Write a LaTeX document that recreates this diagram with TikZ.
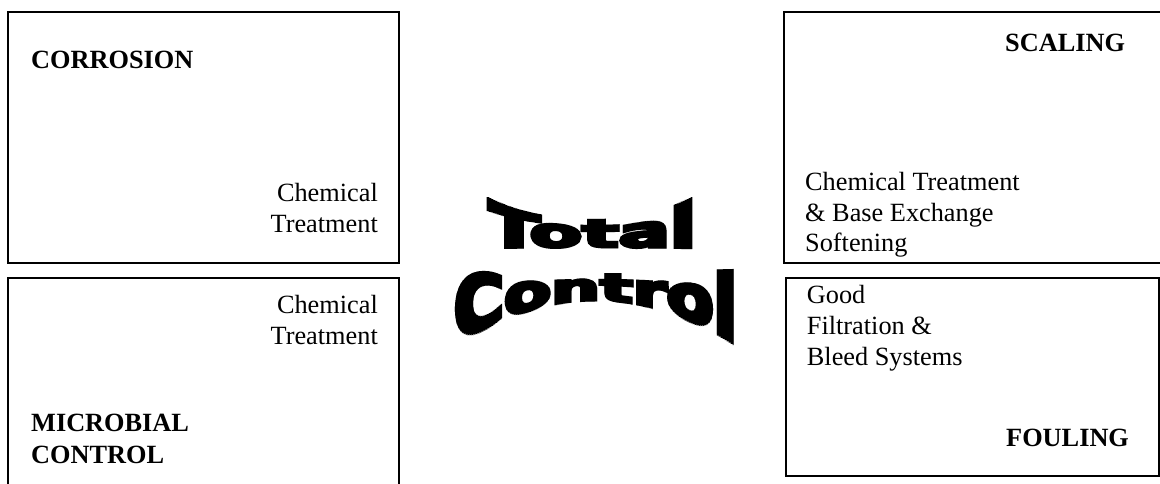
\documentclass[tikz,border=0pt]{standalone}
\usepackage{fontspec}
\usepackage{graphicx}
\setmainfont{Liberation Serif}
\newfontfamily\heavyfont{DejaVu Sans}[BoldFeatures={FakeBold=7}]
\tikzset{
  box/.style={draw=black, line width=1.3pt, inner sep=0pt},
  txt/.style={inner sep=0pt, font=\fontsize{26.3}{30.6}\selectfont},
  btxt/.style={txt, font=\fontsize{26.3}{30.6}\selectfont\bfseries},
  wordart/.style={inner sep=0pt, font=\heavyfont\bfseries}
}
\begin{document}
\begin{tikzpicture}[x=1pt, y=-1pt]
\useasboundingbox (0,0) rectangle (1160,484);
\clip (0,0) rectangle (1160,484);
% boxes
\node[box, minimum width=391pt, minimum height=251pt] (corrbox) at (203.5,137.5) {};
\node[box, minimum width=391pt, minimum height=230pt] (microbox) at (203.5,393) {};
\node[box, minimum width=390pt, minimum height=251pt] (scalebox) at (979,137.5) {};
\node[box, minimum width=373pt, minimum height=198pt] (foulbox) at (972.5,377) {};
% top-left
\node[btxt, anchor=base west] (corr) at (31,68.3) {CORROSION};
\node[txt, anchor=base east] (ct1) at (378,201.7) {Chemical};
\node[txt, anchor=base east] (ct2) at (378,232.3) {Treatment};
% bottom-left
\node[txt, anchor=base east] (mt1) at (378,313.3) {Chemical};
\node[txt, anchor=base east] (mt2) at (378,344) {Treatment};
\node[btxt, anchor=base west] (mic1) at (31,431.7) {MICROBIAL};
\node[btxt, anchor=base west] (mic2) at (31,463.3) {CONTROL};
% top-right
\node[btxt, anchor=base west] (scal) at (1005,51.7) {SCALING};
\node[txt, anchor=base west] (st1) at (805,190) {Chemical Treatment};
\node[txt, anchor=base west] (st2) at (805,221.2) {\& Base Exchange};
\node[txt, anchor=base west] (st3) at (805,251.7) {Softening};
% bottom-right
\node[txt, anchor=base west] (ft1) at (806.7,303.3) {Good};
\node[txt, anchor=base west] (ft2) at (806.7,334) {Filtration \&};
\node[txt, anchor=base west] (ft3) at (806.7,365) {Bleed Systems};
\node[btxt, anchor=base west] (foul) at (1006,446.7) {FOULING};
% Total (deflate warp, fixed baseline)
\foreach \i in {0,...,104} {
  \pgfmathsetmacro\xa{487+2*\i}
  \pgfmathsetmacro\u{abs(\xa+1-592)/105}
  \pgfmathsetmacro\h{29+21*\u*\u*sqrt(\u)}
  \begin{scope}
    \clip (\xa-0.4,150) rectangle (\xa+2.4,262);
    \node[wordart, anchor=base] (tot\i) at (592,247) {\resizebox{208pt}{\h pt}{Total}};
  \end{scope}
}
% Control (deflate warp, fixed top line)
\foreach \i in {0,...,142} {
  \pgfmathsetmacro\xa{453+2*\i}
  \pgfmathsetmacro\u{abs(\xa+1-595.5)/142.5}
  \pgfmathsetmacro\h{28+44*\u*\u}
  \begin{scope}
    \clip (\xa-0.4,262) rectangle (\xa+2.4,360);
    \node[wordart, anchor=north] (con\i) at (595.5,272) {\resizebox{283pt}{\h pt}{Control}};
  \end{scope}
}
\end{tikzpicture}
\end{document}
